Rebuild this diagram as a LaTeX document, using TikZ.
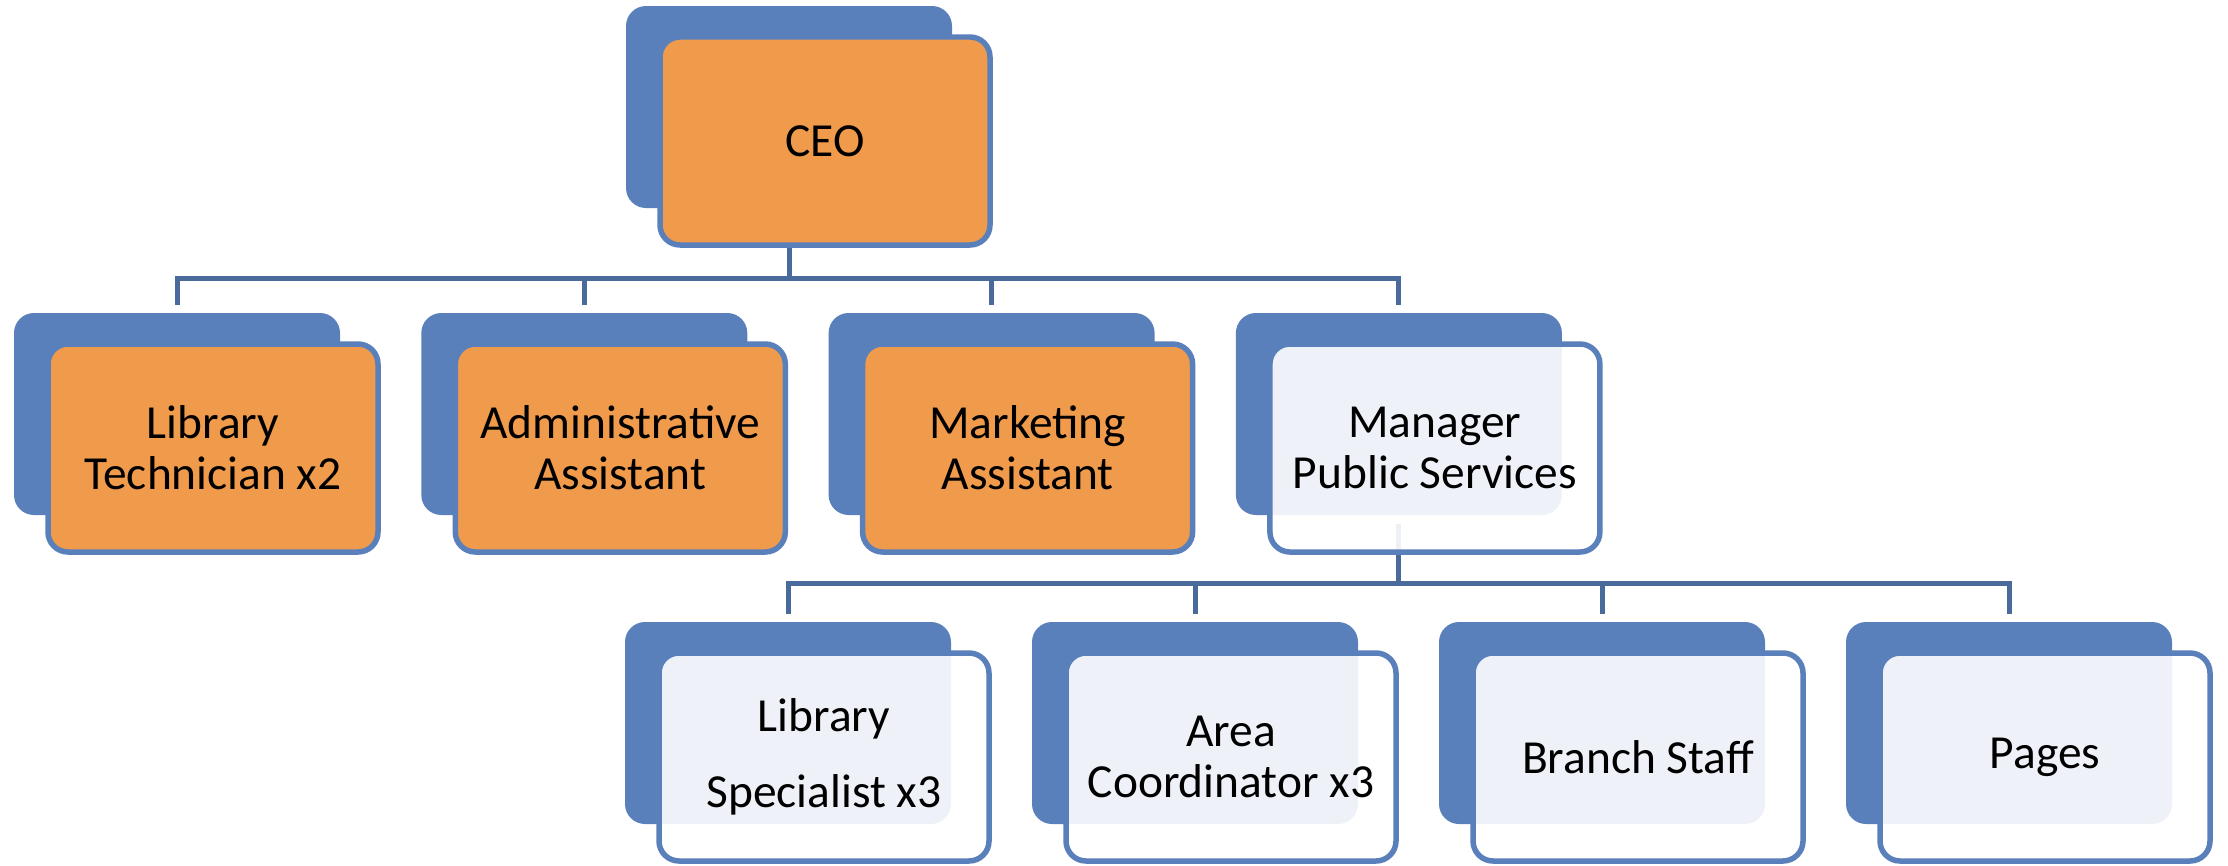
\documentclass[tikz,border=0pt]{standalone}
\usepackage{fontspec}
\setmainfont{Carlito}
\usetikzlibrary{calc}

\definecolor{cardblue}{HTML}{5A80BC}
\definecolor{boxorange}{HTML}{F09A4C}
\definecolor{linkblue}{HTML}{4A6A9C}

\tikzset{
	card/.style={rectangle,rounded corners=0.2cm,fill=cardblue,minimum width=3.26cm,minimum height=2.02cm,inner sep=0},
	box/.style={rectangle,rounded corners=0.2cm,draw=cardblue,line width=0.055cm,minimum width=3.30cm,minimum height=2.08cm,inner sep=0,align=center,font=\fontsize{13.5}{14.5}\selectfont},
	warm/.style={box,fill=boxorange},
	pale/.style={box,fill=white,fill opacity=0.9,text opacity=1},
	link/.style={draw=linkblue,line width=0.05cm,shorten <=0.08cm,shorten >=0.07cm},
}

\begin{document}
\begin{tikzpicture}
\useasboundingbox (0,0) rectangle (22.28,8.65);

% back cards
\node[card] (ceo-b) at (7.89,7.58) {};
\foreach \i/\n in {0/tech,1/admin,2/mkt,3/mps} {
	\node[card] (\n-b) at (1.77 + \i * 4.073,4.51) {};
}
\foreach \i/\n in {0/spec,1/coord,2/branch,3/pages} {
	\node[card] (\n-b) at (7.88 + \i * 4.07,1.42) {};
}

% connectors
\foreach \n in {tech,admin,mkt,mps} {
	\draw[link] (ceo-b.south) -- ++(0,-0.70) -| (\n-b.north);
}
\foreach \n in {spec,coord,branch,pages} {
	\draw[link] (mps-b.south) -- ++(0,-0.68) -| (\n-b.north);
}

% front boxes
\node[warm] (ceo) at ($(ceo-b)+(0.36,-0.34)$) {CEO};
\foreach \n/\t in {tech/{Library\\Technician x2},admin/{Administrative\\Assistant},mkt/{Marketing\\Assistant}} {
	\node[warm] (\n) at ($(\n-b)+(0.36,-0.34)$) {\t};
}
\node[pale] (mps) at ($(mps-b)+(0.36,-0.34)$) {Manager\\Public Services};
\foreach \n/\t in {spec/{Library\\[0.25cm]Specialist x3},coord/{Area\\Coordinator x3},branch/{Branch Staff},pages/{Pages}} {
	\node[pale] (\n) at ($(\n-b)+(0.36,-0.34)$) {\t};
}

\end{tikzpicture}
\end{document}
